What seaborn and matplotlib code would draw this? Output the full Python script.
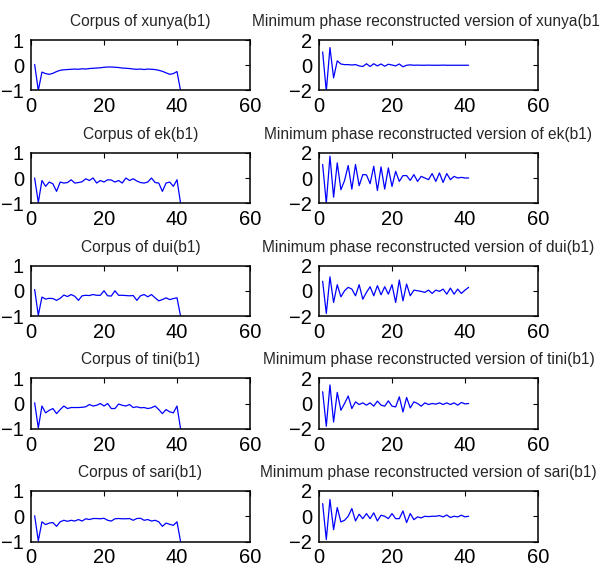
import numpy as np
import matplotlib
matplotlib.use("Agg")
import matplotlib.pyplot as plt
import seaborn as sns

words = ["xunya", "ek", "dui", "tini", "sari"]
x_index = list(range(1, 42))

corpus_xunya = [0.03, -1.0, -0.27, -0.33, -0.36, -0.32, -0.25, -0.2, -0.18, -0.17,
                -0.16, -0.15, -0.16, -0.14, -0.15, -0.13, -0.12, -0.11, -0.10, -0.08,
                -0.07, -0.07, -0.08, -0.09, -0.11, -0.12, -0.13, -0.15, -0.16, -0.15,
                -0.17, -0.15, -0.16, -0.17, -0.2, -0.24, -0.3, -0.36, -0.33, -0.25, -1.02]
recon_xunya = [1.05, -2.05, 1.4, -1.0, 0.35, 0.1, 0.05, 0.05, 0.02, 0.05,
               -0.05, -0.1, 0.12, -0.1, 0.12, -0.05, 0.1, -0.08, 0.08, 0.02,
               -0.05, 0.1, -0.12, 0.0, 0.03, 0.0, 0.01, 0.0, 0.0, 0.01,
               0.0, 0.0, 0.0, 0.01, 0.0, 0.0, 0.0, 0.0, 0.0, 0.0, 0.0]

corpus_ek = [0.0, -0.97, -0.1, -0.33, -0.16, -0.23, -0.53, -0.16, -0.2, -0.18,
             -0.07, -0.2, -0.18, -0.15, -0.03, -0.1, 0.0, -0.2, -0.1, -0.16,
             -0.07, -0.08, -0.16, -0.1, -0.2, 0.0, -0.1, -0.03, -0.12, -0.18,
             -0.2, -0.16, 0.0, -0.18, -0.2, -0.53, -0.2, -0.16, -0.33, -0.07, -1.02]
recon_ek = [1.07, -2.0, 1.73, -1.52, 1.2, -0.93, -0.2, 0.99, -0.88, 1.07,
            -0.61, 0.27, 0.25, -0.45, 0.93, -0.99, 0.88, -0.88, 0.8, -0.67,
            0.53, -0.27, 0.19, 0.19, -0.19, 0.27, -0.27, 0.13, 0.0, -0.13,
            0.35, -0.27, 0.4, -0.35, 0.35, -0.13, 0.13, 0.0, 0.05, 0.0, 0.0]

corpus_dui = [0.05, -0.97, -0.25, -0.33, -0.3, -0.31, -0.38, -0.3, -0.17, -0.23,
              -0.15, -0.22, -0.38, -0.2, -0.18, -0.19, -0.15, -0.18, -0.18, 0.0,
              -0.2, -0.21, 0.0, -0.18, -0.18, -0.19, -0.2, -0.19, -0.38, -0.2,
              -0.15, -0.24, -0.15, -0.28, -0.4, -0.35, -0.28, -0.35, -0.31, -0.28, -1.02]
recon_dui = [0.75, -1.8, 1.1, -0.93, 0.48, -0.48, 0.0, 0.27, 0.13, -0.4,
             0.48, -0.67, -0.13, 0.32, -0.4, 0.4, -0.32, 0.32, -0.27, 0.48,
             -0.93, 0.85, -0.8, 0.53, -0.4, 0.05, 0.0, -0.05, -0.13, 0.05,
             -0.21, 0.05, -0.05, 0.13, -0.27, 0.21, -0.27, 0.13, -0.21, 0.05, 0.27]

corpus_tini = [0.03, -0.97, -0.1, -0.37, -0.27, -0.2, -0.4, -0.24, -0.1, -0.2,
               -0.16, -0.16, -0.16, -0.15, -0.13, -0.04, -0.1, -0.07, 0.0, -0.1,
               0.0, -0.2, -0.2, -0.02, -0.07, -0.1, -0.04, -0.16, -0.13, -0.17,
               -0.16, -0.2, -0.17, -0.1, -0.24, -0.4, -0.24, -0.33, -0.37, -0.1, -1.02]
recon_tini = [0.93, -1.8, 1.47, -1.47, 0.88, -0.53, 0.0, 0.59, -0.4, 0.13,
              -0.08, 0.05, -0.13, 0.05, -0.21, 0.19, -0.13, -0.21, 0.21, -0.21,
              -0.27, 0.53, -0.67, 0.48, -0.35, 0.13, 0.0, -0.21, 0.05, -0.08,
              0.0, -0.05, 0.05, -0.08, 0.05, -0.08, 0.05, -0.13, 0.08, -0.03, 0.0]

corpus_sari = [0.02, -0.97, -0.22, -0.33, -0.27, -0.25, -0.4, -0.22, -0.16, -0.2,
               -0.16, -0.19, -0.13, -0.19, -0.1, -0.13, -0.09, -0.09, -0.1, -0.08,
               -0.16, -0.19, -0.1, -0.09, -0.1, -0.1, -0.09, -0.16, -0.09, -0.08,
               -0.16, -0.13, -0.19, -0.16, -0.22, -0.4, -0.27, -0.32, -0.36, -0.22, -1.02]
recon_sari = [1.0, -1.85, 1.33, -1.06, 0.69, -0.45, -0.32, 0.0, 0.61, -0.37,
              0.16, -0.19, 0.21, -0.19, 0.27, -0.37, 0.08, 0.0, -0.19, 0.21,
              -0.19, -0.19, 0.42, -0.5, 0.21, -0.27, -0.05, -0.13, 0.0, -0.03,
              0.0, 0.0, 0.05, -0.05, 0.1, -0.1, 0.0, -0.05, 0.08, -0.05, 0.0]

corpus_series = [corpus_xunya, corpus_ek, corpus_dui, corpus_tini, corpus_sari]
recon_series = [recon_xunya, recon_ek, recon_dui, recon_tini, recon_sari]

x_ticks = [0, 20, 40, 60]
left_yticks = [-1, 0, 1]
right_yticks = [-2, 0, 2]

sns.set_style("white")
plt.rcParams["font.family"] = ["Liberation Sans", "DejaVu Sans"]

W, H = 600, 571
fig = plt.figure(figsize=(W / 100, H / 100), dpi=100)

row_tops = [40, 152.75, 265.5, 378.25, 491]
ax_h = 50.5
left_x, right_x, ax_w = 31, 319, 219

title_font = dict(family=["Liberation Sans", "DejaVu Sans"], size=11.2)


def style_axes(ax, yticks, ylim):
    ax.set_xlim(0, 60)
    ax.set_ylim(*ylim)
    ax.set_xticks(x_ticks)
    ax.set_yticks(yticks)
    ax.tick_params(direction="in", top=True, right=True, length=3.5, width=0.8,
                   labelsize=14.5, pad=5, colors="black")
    for s in ax.spines.values():
        s.set_color("black")
        s.set_linewidth(1.1)
        s.set_visible(True)
    ax.set_xlabel("")
    ax.set_ylabel("")


for i, w in enumerate(words):
    top = row_tops[i]
    bottom = 1 - (top + ax_h) / H
    axl = fig.add_axes([left_x / W, bottom, ax_w / W, ax_h / H])
    sns.lineplot(x=x_index, y=corpus_series[i], ax=axl, color="#0000ff", linewidth=0.9)
    style_axes(axl, left_yticks, (-1, 1))
    axl.set_title(f"Corpus of {w}(b1)", pad=10, fontdict=title_font)

    axr = fig.add_axes([right_x / W, bottom, ax_w / W, ax_h / H])
    sns.lineplot(x=x_index, y=recon_series[i], ax=axr, color="#0000ff", linewidth=0.9)
    style_axes(axr, right_yticks, (-2, 2))
    axr.set_title(f"Minimum phase reconstructed version of {w}(b1)", pad=10, fontdict=title_font)

fig.savefig("out.png", dpi=100, facecolor="white")
